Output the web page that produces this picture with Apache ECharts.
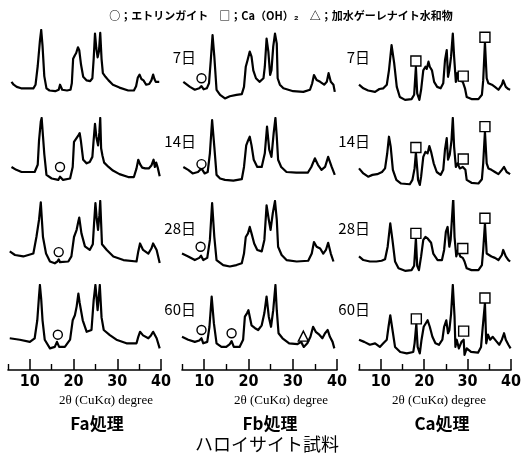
<!DOCTYPE html>
<html><head><meta charset="utf-8">
<script src="https://cdn.jsdelivr.net/npm/echarts@6/dist/echarts.min.js"></script>
<style>html,body{margin:0;padding:0;background:#fff}#c{width:529px;height:456px}</style>
</head><body><div id="c"></div>
<script>
// ---------- data ----------
const treatments = ['Fa処理', 'Fb処理', 'Ca処理'];
const days = ['7日', '14日', '28日', '60日'];
const majorTicks = [10, 20, 30, 40];
const minorTicks = [5, 15, 25, 35];
const axisLabel2 = '2θ (CuKα) degree';
const legendText = '○；エトリンガイト　□；Ca（OH）₂　△；加水ゲーレナイト水和物';
const sampleTitle = 'ハロイサイト試料';

// [2θ, relative intensity]
const fa7 = [[5.8,28],[6.3,24],[7,21],[8,19],[9.5,19],[10.8,19],[11.3,24],[11.8,50],[12.3,85],[12.6,100],[12.9,78],[13.3,36],[13.8,19],[14.5,16],[15.8,15],[16.6,17],[16.9,24],[17.2,22],[17.4,17],[18.5,16],[19.3,17],[19.6,26],[19.9,60],[20.3,65],[20.6,68],[21.0,76],[21.3,72],[21.7,52],[22.2,35],[23,30],[23.8,29],[24.3,33],[24.6,60],[24.9,95],[25.2,75],[25.5,62],[25.8,70],[26.1,96],[26.4,60],[26.7,40],[27.3,35],[28,30],[29,24],[30.5,20],[32.5,16],[33.8,16],[34.3,22],[34.7,34],[35.1,38],[35.5,32],[36,30],[36.6,24],[37.3,25],[37.8,30],[38.2,38],[38.5,32],[38.8,28],[39.2,30],[39.6,28]];
const fa14 = [[5.8,32],[6.9,28],[8.1,25],[9.6,25],[11.1,25],[11.8,35],[12.1,69],[12.5,95],[12.7,100],[13.0,75],[13.3,50],[13.8,21],[15,16],[16.5,14],[16.9,18.5],[17.6,14],[19.2,16],[19.8,32],[20.1,67],[20.5,69],[21.1,76],[21.4,79],[21.7,67],[22.2,42],[23,37],[23.7,39],[24.3,46],[24.6,70],[24.9,92],[25.2,74],[25.6,62],[25.9,80],[26.1,100],[26.3,58],[26.6,48],[27,38],[28,32],[29,27],[30.5,22],[32.5,18],[33.8,18],[34.4,30],[34.8,42],[35.2,36],[35.7,31],[36.4,30],[37.2,30],[37.8,34],[38.3,42],[38.6,32],[38.9,38],[39.3,30],[39.7,19]];
const fa28 = [[5.4,30],[6.6,25],[8.5,23],[10.8,27],[11.5,50],[12.1,74],[12.5,98],[12.7,100],[13.0,50],[13.7,27],[14.6,16],[15.7,13.5],[16.3,16],[16.6,19],[16.9,15],[17.2,13.5],[18.8,16],[19.5,23],[20.1,50],[20.7,60],[21.1,72],[21.3,77],[21.8,55],[22.6,37],[23.7,32],[24.4,40],[24.7,70],[25.0,97],[25.3,75],[25.6,60],[25.9,80],[26.1,100],[26.5,40],[27.6,32],[29.1,23],[31.4,18],[34.4,16],[34.8,30],[35.2,41],[35.9,32],[37.1,27],[37.8,34],[38.2,41],[39,32],[39.7,14]];
const fa60 = [[5.4,26],[7.7,24],[10,21],[11.1,26],[11.7,51],[12.1,85],[12.3,100],[12.6,80],[12.9,51],[13.4,24],[14.6,12],[15.7,14],[16.2,21],[16.7,14],[18,14],[19.2,24],[19.8,51],[20.3,58],[20.7,70],[21.1,88],[21.4,75],[22.1,51],[23,35],[24.1,37.5],[24.6,79],[25.0,100],[25.5,65],[26.0,100],[26.4,55],[26.9,37.5],[28.3,30.5],[29.8,24],[32.1,19],[34.4,19],[34.8,28],[35.2,35],[35.9,30],[37.1,26],[37.7,30],[38.2,35],[39,26],[39.7,12]];
const fb7 = [[5.3,28],[6.8,21],[7.9,17],[8.9,19],[9.4,22],[9.9,17.6],[10.6,19],[11.1,26],[11.5,58],[11.9,93],[12.3,63],[12.8,17],[13.6,10],[14.7,5],[15.8,8],[17.3,10],[18.5,11],[19.0,21],[19.4,49],[19.8,58],[20.3,70],[20.7,63],[21.1,44],[21.7,33],[22.5,28],[23.4,33],[23.7,49],[24.1,88],[24.5,70],[24.9,37.5],[25.2,44],[25.6,77],[26.0,95],[26.4,81],[26.6,33],[27.1,24],[27.9,19],[29,17],[30.1,15],[32.4,14],[33.9,17],[34.4,26],[34.8,37.5],[35.4,30.5],[36.2,28],[37.1,24],[37.7,28],[38.1,40],[38.6,28],[39.2,24],[39.5,14]];
const fb14 = [[5.3,32],[6.4,28],[7.4,23],[8.6,25],[9.4,30],[10.1,23],[10.8,25],[11.3,51],[11.8,97],[12.3,60],[12.8,21],[13.6,16],[14.7,14],[16.6,13],[18.5,15],[19.0,32],[19.5,62],[19.8,67],[20.3,74],[20.7,62],[21.2,42],[22.0,32],[23.0,32],[23.7,51],[24.2,88],[24.7,56],[25.2,46],[25.7,79],[26.1,100],[26.4,74],[26.7,42],[27.4,32],[28.6,25],[30.8,24],[33.4,24],[34.2,32],[35.0,44],[35.7,35],[36.5,28],[37.3,32],[38.0,46],[38.8,32],[39.5,21]];
const fb28 = [[5.0,27],[6.4,23],[7.9,18],[8.9,21],[9.3,24],[9.8,18],[10.7,21],[11.3,46],[11.8,97],[12.3,50],[12.8,18],[14.3,11],[15.8,9],[17.3,11],[18.5,13.5],[19.0,27],[19.4,50],[19.9,55],[20.3,64],[20.7,55],[21.3,41],[22.0,32],[23.0,30],[23.6,46],[24.1,94],[24.6,74],[25.0,60],[25.5,83],[26.0,100],[26.4,74],[26.7,36.5],[27.5,25],[28.6,18],[30.9,16],[33.5,17],[34.3,27],[34.8,43],[35.4,36.5],[36.2,34],[36.9,27],[37.5,32],[38.0,42],[38.6,27],[39.2,16]];
const fb60 = [[5.0,28],[6.4,24],[7.9,21],[8.9,23],[9.4,26],[9.8,19],[10.7,21],[11.2,42],[11.7,84],[12.2,47],[12.8,19],[13.9,14],[15.0,14],[15.8,18],[16.2,22],[16.7,14],[18.0,14],[18.8,24],[19.2,56],[19.7,61],[20.0,65],[20.3,56],[20.7,44],[21.5,40],[22.2,37.5],[23.0,44],[23.6,61],[24.1,84],[24.6,56],[25.1,42],[25.6,65],[26.1,100],[26.4,65],[26.8,33],[27.7,26],[29.2,19],[31.1,18],[31.9,21],[32.3,20],[32.5,14],[33.3,19],[34.0,28],[34.6,42],[35.2,35],[36.0,31],[36.7,26],[37.3,33],[37.9,37.5],[38.4,28],[39.0,21],[39.4,12]];
const ca7 = [[5.0,24],[6.0,19],[7.1,16],[8.7,14],[9.7,18],[10.6,19],[11.4,24],[11.9,44],[12.5,79],[13.1,54],[13.7,21],[14.4,7],[15.6,3],[17.1,4],[17.7,10],[18.1,49],[18.4,12],[18.9,3],[19.3,17],[19.8,44],[20.3,49],[20.6,46],[21.0,56],[21.3,49],[21.8,44],[22.3,28],[23.0,21],[23.8,19],[24.4,26],[24.8,58],[25.2,72],[25.5,35],[25.8,44],[26.2,63],[26.6,95],[26.9,63],[27.3,28],[27.6,40],[28.0,30],[28.9,28],[29.4,19],[29.8,7],[30.9,4],[32.5,4],[33.3,10],[33.6,30],[34.0,83],[34.4,33],[34.8,26],[35.6,24],[36.3,21],[37.1,17],[37.9,24],[38.2,30],[38.8,21],[39.4,18],[39.8,17]];
const ca14 = [[5.0,30],[6.0,23],[7.1,18.5],[8.1,21],[9.2,22],[10.3,25],[11.0,30],[11.5,51],[11.9,74],[12.3,60],[12.8,28],[13.6,14],[14.7,9],[16.7,8],[17.3,14],[17.8,30],[18.1,52],[18.4,30],[18.6,14],[19.0,7],[19.3,18.5],[19.8,46],[20.3,53],[20.8,51],[21.2,61],[21.6,53],[22.2,37],[22.9,25],[23.8,21],[24.4,28],[24.8,56],[25.2,72],[25.5,42],[25.9,49],[26.3,69],[26.6,100],[26.9,60],[27.3,32],[27.7,37],[28.2,30],[28.9,32],[29.5,28],[29.8,14],[30.9,10],[32.5,9],[33.3,15],[33.6,37],[34.0,81],[34.4,37],[34.8,30],[35.5,28],[36.3,25],[37.1,22],[37.9,28],[38.4,32],[39.0,25],[39.8,22]];
const ca28 = [[5.0,23],[6.0,18],[7.5,16],[9.0,16],[10.2,17],[11.0,19],[11.6,36.5],[12.2,69],[12.7,46],[13.3,16],[14.1,6.5],[15.6,3],[17.1,4],[17.7,10],[18.1,48],[18.4,10],[18.8,4],[19.3,23],[19.8,46],[20.3,50],[20.8,48],[21.1,50],[21.6,42],[22.1,27],[23.1,18],[24.1,18],[24.6,32],[25.0,57],[25.4,64],[25.8,36.5],[26.1,46],[26.7,104],[27.0,50],[27.4,23],[27.8,32],[28.3,23],[28.9,21],[29.3,16],[29.8,6.5],[30.9,4],[32.5,4],[33.3,11],[33.6,32],[34.0,69],[34.4,27],[34.8,25],[35.5,23],[36.3,21],[37.1,18],[37.9,25],[38.2,32],[38.8,23],[39.4,18],[39.8,16]];
const ca60 = [[5.0,24],[6.2,21],[7.5,17],[8.7,19],[9.8,14],[10.6,19],[11.4,24],[11.8,42],[12.2,58],[12.6,42],[13.3,14],[14.5,7],[16.0,5],[17.5,7],[17.8,19],[18.2,46],[18.5,14],[19.0,5],[19.4,24],[19.9,42],[20.3,40],[20.8,51],[21.3,42],[21.9,28],[22.6,19],[23.4,17],[24.2,24],[24.6,42],[25.1,51],[25.5,33],[25.8,37],[26.2,60],[26.6,100],[27.0,56],[27.2,14],[27.5,24],[28.0,12],[28.6,21],[29.1,24],[29.3,3],[29.8,12],[30.8,7],[32.4,6],[33.1,14],[33.5,42],[34.0,75],[34.3,19],[34.7,31],[35.2,24],[35.8,28],[36.6,22],[37.3,17],[37.9,24],[38.4,33],[38.8,24],[39.4,17],[39.9,12]];

const patterns = [[fa7, fa14, fa28, fa60], [fb7, fb14, fb28, fb60], [ca7, ca14, ca28, ca60]];

// markers: [treatment index, day index, 2θ, intensity]
const ettringiteMarks = [[0,1,16.9,32],[0,2,16.6,29],[0,3,16.4,31],[1,0,9.4,33],[1,1,9.4,36],[1,2,9.2,36.5],[1,3,9.4,37.5],[1,3,16.2,33]];
const caohMarks = [[2,0,18.1,57],[2,0,29.0,36],[2,0,34.0,90],[2,1,18.1,59],[2,1,29.0,43],[2,1,34.0,88],[2,2,18.1,55],[2,2,28.9,34],[2,2,34.0,76],[2,3,18.2,53],[2,3,29.1,36],[2,3,34.0,82]];
const gehleniteMarks = [[1,3,32.4,29]];

// ---------- layout ----------
const colLeft = [8, 182, 359];
const colWidth = [153, 155, 152];
const rowTop = [30, 118, 201, 285];
const rowH = 72;
const axisY = 370;

const grids = [], xAxes = [], yAxes = [], series = [];
for (let r = 0; r < 4; r++) {
  for (let c = 0; c < 3; c++) {
    const i = grids.length;
    grids.push({ left: colLeft[c], width: colWidth[c], top: rowTop[r], height: rowH });
    xAxes.push({ gridIndex: i, type: 'value', min: 5, max: 40, show: false });
    yAxes.push({ gridIndex: i, type: 'value', min: 0, max: 100, show: false });
    series.push({ type: 'line', xAxisIndex: i, yAxisIndex: i, data: patterns[c][r], showSymbol: false, symbol: 'none',
      lineStyle: { color: '#000', width: 2.2, join: 'round' }, z: 2, silent: true });
  }
}
function addMarks(list, symbol, size) {
  for (const m of list) {
    const i = m[1] * 3 + m[0];
    series.push({ type: 'scatter', xAxisIndex: i, yAxisIndex: i, data: [[m[2], m[3]]], symbol: symbol, symbolSize: size,
      itemStyle: { color: '#fff', borderColor: '#000', borderWidth: 1.4, opacity: 1 }, z: 5, silent: true });
  }
}
addMarks(ettringiteMarks, 'circle', 9);
addMarks(caohMarks, 'rect', 10);
addMarks(gehleniteMarks, 'triangle', 10);

const tickFont = "'Liberation Sans Narrow','DejaVu Sans Condensed',sans-serif";
for (let c = 0; c < 3; c++) {
  // minor ticks + axis line
  let gi = grids.length;
  grids.push({ left: colLeft[c], width: colWidth[c], top: axisY - 1, height: 1 });
  yAxes.push({ gridIndex: gi, type: 'value', min: 0, max: 1, show: false });
  xAxes.push({ gridIndex: gi, type: 'value', min: 5, max: 40, position: 'bottom',
    axisLine: { show: true, onZero: false, lineStyle: { color: '#000', width: 1.6 } },
    axisTick: { show: true, inside: true, length: 6, customValues: minorTicks, lineStyle: { color: '#000', width: 1.4 } },
    axisLabel: { show: false }, splitLine: { show: false } });
  // major ticks + labels
  gi = grids.length;
  grids.push({ left: colLeft[c], width: colWidth[c], top: axisY - 1, height: 1 });
  yAxes.push({ gridIndex: gi, type: 'value', min: 0, max: 1, show: false });
  xAxes.push({ gridIndex: gi, type: 'value', min: 5, max: 40, position: 'bottom',
    axisLine: { show: false, onZero: false },
    axisTick: { show: true, inside: true, length: 11, customValues: majorTicks, lineStyle: { color: '#000', width: 1.5 } },
    axisLabel: { show: true, customValues: majorTicks, margin: 4, color: '#000', fontSize: 16, fontWeight: 'bold', fontFamily: tickFont },
    splitLine: { show: false } });
}

// ---------- texts ----------
const jp = "'Noto Sans CJK JP',sans-serif";
const graphic = [];
graphic.push({ type: 'text', x: 281, y: 16, style: { text: legendText, align: 'center', verticalAlign: 'middle', fontSize: 11, fontWeight: 'bold', fontFamily: jp, fill: '#000' } });
const dayRight = [196, 370];
const dayY = [57, 141, 228, 309];
for (let r = 0; r < 4; r++) for (let k = 0; k < 2; k++) {
  graphic.push({ type: 'text', x: dayRight[k], y: dayY[r], style: { text: days[r], align: 'right', verticalAlign: 'middle', fontSize: 15, fontFamily: jp, fill: '#000' } });
}
const subCenter = [106, 281, 439];
const treatCenter = [97, 270, 442];
for (let c = 0; c < 3; c++) {
  graphic.push({ type: 'text', x: subCenter[c], y: 401, style: { text: axisLabel2, align: 'center', verticalAlign: 'middle', fontSize: 13, fontFamily: "'Liberation Serif',serif", fill: '#000' } });
  graphic.push({ type: 'text', x: treatCenter[c], y: 424, style: { text: treatments[c], align: 'center', verticalAlign: 'middle', fontSize: 17, fontWeight: 'bold', fontFamily: "'Liberation Sans Narrow','Noto Sans CJK JP',sans-serif", fill: '#000' } });
}
graphic.push({ type: 'text', x: 267, y: 444, style: { text: sampleTitle, align: 'center', verticalAlign: 'middle', fontSize: 18, fontFamily: jp, fill: '#000' } });

const chart = echarts.init(document.getElementById('c'), null, { renderer: 'canvas' });
chart.setOption({ animation: false, backgroundColor: '#fff', grid: grids, xAxis: xAxes, yAxis: yAxes, series: series, graphic: graphic });
</script></body></html>
